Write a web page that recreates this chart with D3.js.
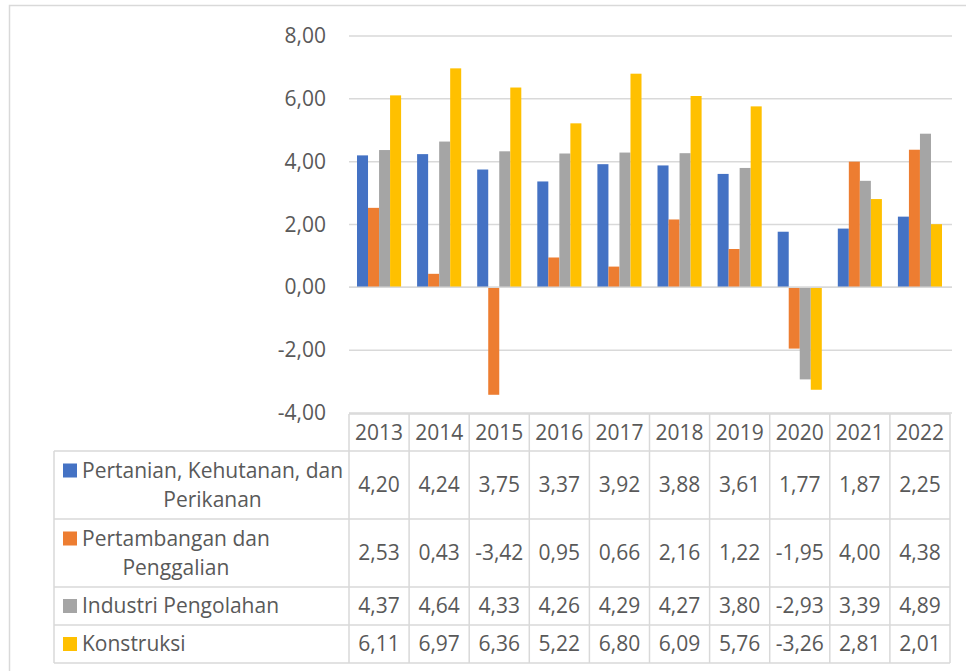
<!DOCTYPE html>
<html>
<head>
<meta charset="utf-8">
<script src="https://cdn.jsdelivr.net/npm/d3@7"></script>
<style>
  body { margin: 0; background: #fff; }
  svg text { font-family: "Open Sans", "Noto Sans", sans-serif; fill: #595959; }
</style>
</head>
<body>
<div id="container"></div>
<script>
// chart data
const years = ["2013", "2014", "2015", "2016", "2017", "2018", "2019", "2020", "2021", "2022"];
const seriesNames = [
  ["Pertanian, Kehutanan, dan", "Perikanan"],
  ["Pertambangan dan", "Penggalian"],
  ["Industri Pengolahan"],
  ["Konstruksi"]
];
const pertanian = [4.20, 4.24, 3.75, 3.37, 3.92, 3.88, 3.61, 1.77, 1.87, 2.25];
const pertambangan = [2.53, 0.43, -3.42, 0.95, 0.66, 2.16, 1.22, -1.95, 4.00, 4.38];
const industri = [4.37, 4.64, 4.33, 4.26, 4.29, 4.27, 3.80, -2.93, 3.39, 4.89];
const konstruksi = [6.11, 6.97, 6.36, 5.22, 6.80, 6.09, 5.76, -3.26, 2.81, 2.01];
const yTicks = [-4, -2, 0, 2, 4, 6, 8];
const colors = ["#4472c4", "#ed7d31", "#a5a5a5", "#ffc000"];

const series = [pertanian, pertambangan, industri, konstruksi];

const width = 966, height = 671;
const fontSize = 21;
const svg = d3.select("#container").append("svg")
  .attr("width", width).attr("height", height);

// outer chart border (cropped on right/bottom)
svg.append("path")
  .attr("d", "M9.5," + (height + 2) + "V5.5H" + (width + 2))
  .attr("fill", "none").attr("stroke", "#d9d9d9").attr("stroke-width", 1.5);

const plotLeft = 349, plotRight = 950;
const y = d3.scaleLinear().domain([-4, 8]).range([413, 36]);
const x0 = d3.scaleBand().domain(years).range([plotLeft, plotRight]);
const x1 = d3.scaleBand().domain(d3.range(4)).range([8, x0.bandwidth() - 8]);

const fmt = v => d3.format(".2f")(v).replace(".", ",").replace("−", "-");

// gridlines
svg.append("g").selectAll("line").data(yTicks).join("line")
  .attr("x1", plotLeft).attr("x2", plotRight + 2)
  .attr("y1", d => y(d)).attr("y2", d => y(d))
  .attr("stroke", "#d9d9d9").attr("stroke-width", 1.5);

// y tick labels
svg.append("g").selectAll("text").data(yTicks).join("text")
  .attr("x", 326).attr("y", d => y(d) + 7)
  .attr("text-anchor", "end").attr("font-size", fontSize)
  .text(d => fmt(d));

// bars
const groups = svg.append("g").selectAll("g").data(years).join("g")
  .attr("transform", d => `translate(${x0(d)},0)`);
groups.selectAll("rect").data((d, i) => series.map((s, k) => ({ k, v: s[i] }))).join("rect")
  .attr("x", d => x1(d.k))
  .attr("width", x1.bandwidth())
  .attr("y", d => y(Math.max(0, d.v)))
  .attr("height", d => Math.abs(y(d.v) - y(0)))
  .attr("fill", d => colors[d.k]);

// zero line on top
svg.append("line")
  .attr("x1", plotLeft).attr("x2", plotRight + 2)
  .attr("y1", y(0)).attr("y2", y(0))
  .attr("stroke", "#d9d9d9").attr("stroke-width", 1.5);

// data table
const rowEdges = [451, 519, 587, 625, 663];
const headerTop = 414;
const tableLeft = 54;
const tbl = svg.append("g");
const gridStroke = "#d9d9d9";

// header row
tbl.append("line").attr("x1", plotLeft).attr("x2", plotRight)
  .attr("y1", headerTop).attr("y2", headerTop).attr("stroke", gridStroke).attr("stroke-width", 1.5);
tbl.selectAll("text.year").data(years).join("text")
  .attr("class", "year")
  .attr("x", d => x0(d) + x0.bandwidth() / 2)
  .attr("y", 440)
  .attr("text-anchor", "middle").attr("font-size", fontSize)
  .text(d => d);

// horizontal lines
tbl.selectAll("line.h").data(rowEdges).join("line")
  .attr("class", "h")
  .attr("x1", tableLeft).attr("x2", plotRight)
  .attr("y1", d => d).attr("y2", d => d)
  .attr("stroke", gridStroke).attr("stroke-width", 1.5);

// vertical lines
const colEdges = years.map(d => x0(d)).concat([plotRight]);
tbl.selectAll("line.v").data(colEdges).join("line")
  .attr("class", "v")
  .attr("x1", d => d).attr("x2", d => d)
  .attr("y1", headerTop).attr("y2", rowEdges[rowEdges.length - 1])
  .attr("stroke", gridStroke).attr("stroke-width", 1.5);
tbl.append("line").attr("x1", tableLeft).attr("x2", tableLeft)
  .attr("y1", rowEdges[0]).attr("y2", rowEdges[rowEdges.length - 1])
  .attr("stroke", gridStroke).attr("stroke-width", 1.5);

// legend cells + values
series.forEach((s, k) => {
  const top = rowEdges[k], bottom = rowEdges[k + 1];
  const mid = (top + bottom) / 2;
  const lines = seriesNames[k];
  const lineH = 29;
  const firstBase = mid + 7 - (lines.length - 1) * lineH / 2;

  const t1 = tbl.append("text")
    .attr("x", 82).attr("y", firstBase)
    .attr("font-size", fontSize)
    .text(lines[0]);
  const w = t1.node().getComputedTextLength();
  tbl.append("rect")
    .attr("x", 63).attr("y", firstBase - 14)
    .attr("width", 14).attr("height", 14)
    .attr("fill", colors[k]);
  if (lines.length > 1) {
    tbl.append("text")
      .attr("x", 82 + w / 2).attr("y", firstBase + lineH)
      .attr("text-anchor", "middle").attr("font-size", fontSize)
      .text(lines[1]);
  }

  tbl.selectAll(null).data(s).join("text")
    .attr("x", (d, i) => x0(years[i]) + x0.bandwidth() / 2)
    .attr("y", mid + 7)
    .attr("text-anchor", "middle").attr("font-size", fontSize)
    .text(d => fmt(d));
});
</script>
</body>
</html>
